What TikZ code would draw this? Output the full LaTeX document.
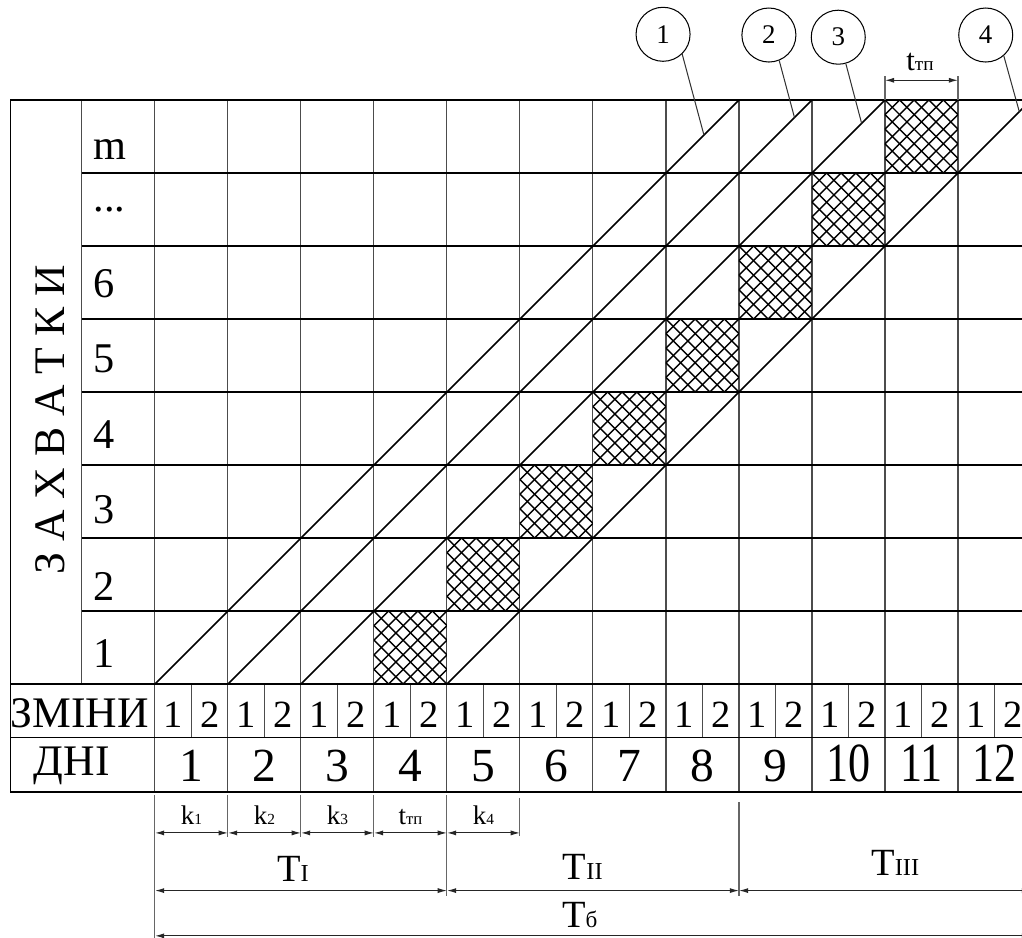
\documentclass[tikz,border=0pt]{standalone}
\usepackage{fontspec}
\setmainfont{Liberation Serif}
\usetikzlibrary{arrows.meta}
\newcommand{\subidx}[2]{{\fontsize{#1}{#1}\selectfont #2}}

\begin{document}
\begin{tikzpicture}[
  vline/.style={draw=black!70,line width=0.4pt},
  hline/.style={draw=black,line width=0.6pt},
  flowline/.style={draw=black,line width=0.65pt},
  hatch/.style={draw=black,line width=0.55pt},
  extline/.style={draw=black!60,line width=0.4pt},
  leader/.style={draw=black!80,line width=0.4pt},
  dim/.style={{Latex[length=3.6pt,width=2pt]}-{Latex[length=3.6pt,width=2pt]},
              draw=black!85,line width=0.45pt},
  callout/.style={circle,draw,line width=0.4pt,minimum size=0.74cm,inner sep=0pt,
                  font=\fontsize{10.5}{12}\selectfont},
  rowlbl/.style={anchor=base west,inner sep=0pt,font=\fontsize{16.5}{18}\selectfont},
  shiftlbl/.style={anchor=base,inner sep=0pt,font=\fontsize{15}{16}\selectfont},
  daylbl/.style={anchor=base,inner sep=0pt,font=\fontsize{18.5}{20}\selectfont},
  bigday/.style={anchor=base,inner sep=0pt,xscale=0.8,font=\fontsize{21.5}{24}\selectfont},
  headlbl/.style={anchor=base,inner sep=0pt,font=\fontsize{17}{20}\selectfont},
  klbl/.style={anchor=base,inner sep=0pt,font=\fontsize{10.5}{12}\selectfont},
  tlbl/.style={anchor=base,inner sep=0pt,font=\fontsize{15}{18}\selectfont}]

  \useasboundingbox (-2.123,-3.466) rectangle (11.877,9.370);
  \clip (-2.123,-3.466) rectangle (11.877,9.370);

  % grid
  \foreach \x in {0,...,12} \draw[vline] (\x,-1.48) -- (\x,8);
  \draw[vline] (-1,0) -- (-1,8);
  \foreach \x in {0,...,12} \draw[vline] (\x+0.5,-0.73) -- (\x+0.5,0);
  \foreach \y in {1,...,7} \draw[hline] (-1,\y) -- (12.5,\y);
  \foreach \y in {8,0,-0.73,-1.48} \draw[hline] (-1.98,\y) -- (12.5,\y);
  \draw[hline] (-1.98,-1.48) -- (-1.98,8);

  % hatched squares
  \foreach \r in {1,...,8} {
    \begin{scope}[shift={(\r+2,\r-1)}]
      \clip (0,0) rectangle (1,1);
      \foreach \k in {-5,...,5} {
        \draw[hatch] ({\k/5},0) -- ++(1,1);
        \draw[hatch] ({\k/5},1) -- ++(1,-1);
      }
    \end{scope}
  }

  % flow lines
  \draw[flowline] (0,0) -- (8,8) coordinate[pos=0.94] (p1);
  \draw[flowline] (1,0) -- (9,8) coordinate[pos=0.97] (p2);
  \draw[flowline] (2,0) -- (10,8) coordinate[pos=0.96] (p3);
  \draw[flowline] (4,0) -- (12,8) coordinate[pos=0.98] (p4);

  \node[callout] (c1) at (6.96,8.90) {1};
  \node[callout] (c2) at (8.41,8.89) {2};
  \node[callout] (c3) at (9.36,8.86) {3};
  \node[callout] (c4) at (11.38,8.89) {4};
  \draw[leader] (c1.-46) -- (p1);
  \draw[leader] (c2.-68) -- (p2);
  \draw[leader] (c3.-74) -- (p3);
  \draw[leader] (c4.-49) -- (p4);

  % t_tp on top
  \draw[extline] (10,8) -- (10,8.33);
  \draw[extline] (11,8) -- (11,8.33);
  \coordinate (ta) at (10,8.27);
  \coordinate (tb) at (11,8.27);
  \draw[dim] (ta) -- (tb);
  \node[klbl,font=\fontsize{12}{13}\selectfont] (ttop) at (10.48,8.41) {t\subidx{7.5}{тп}};

  % row labels
  \foreach \y/\t [count=\i] in {0.23/1,1.15/2,2.2/3,3.22/4,4.27/5,5.29/6,6.47/{...},7.18/m}
    \node[rowlbl] (row\i) at (-0.85,\y) {\t};
  \node[headlbl,anchor=center,rotate=90] (zakh) at (-1.44,3.62) {З А Х В А Т К И};

  % shifts and days
  \node[headlbl] (shifts) at (-1.03,-0.60) {ЗМІНИ};
  \node[headlbl] (days) at (-1.14,-1.25) {ДНІ};
  \foreach \x in {0,...,11} {
    \node[shiftlbl] (sa\x) at (\x+0.25,-0.59) {1};
    \node[shiftlbl] (sb\x) at (\x+0.75,-0.59) {2};
  }
  \foreach \d in {1,...,9} \node[daylbl] (d\d) at (\d-0.5,-1.34) {\d};
  \foreach \d in {10,11,12} \node[bigday] (d\d) at (\d-0.5,-1.34) {\d};

  % dimensions below
  \draw[extline] (0,-1.52) -- (0,-3.6);
  \foreach \x in {1,2,3} \draw[extline] (\x,-1.52) -- (\x,-2.1);
  \draw[extline] (4,-1.52) -- (4,-2.9);
  \draw[extline] (5,-1.56) -- (5,-2.08);
  \draw[extline] (8,-1.62) -- (8,-2.9);

  \foreach \x in {0,...,5} \coordinate (k\x) at (\x,-2.04);
  \foreach \a/\b/\t in {0/1/{k\subidx{6}{1}},1/2/{k\subidx{6}{2}},2/3/{k\subidx{6}{3}},
                        3/4/{t\subidx{6.5}{тп}},4/5/{k\subidx{6}{4}}} {
    \draw[dim] (k\a) -- (k\b);
    \node[klbl] (kl\a) at ({(\a+\b)/2},-1.93) {\t};
  }

  \foreach \x in {0,4,8,12} \coordinate (t\x) at (\x,-2.83);
  \draw[dim] (t0) -- (t4);
  \draw[dim] (t4) -- (t8);
  \draw[dim] (t8) -- (t12);
  \node[tlbl] (T1) at (1.89,-2.71) {T\subidx{9.5}{I}};
  \node[tlbl] (T2) at (5.86,-2.68) {T\subidx{9.5}{II}};
  \node[tlbl] (T3) at (10.14,-2.62) {T\subidx{9.5}{III}};

  \coordinate (b0) at (0,-3.45);
  \coordinate (b12) at (12,-3.45);
  \draw[dim] (b0) -- (b12);
  \node[tlbl] (Tb) at (5.82,-3.33) {T\subidx{9}{б}};
\end{tikzpicture}
\end{document}
